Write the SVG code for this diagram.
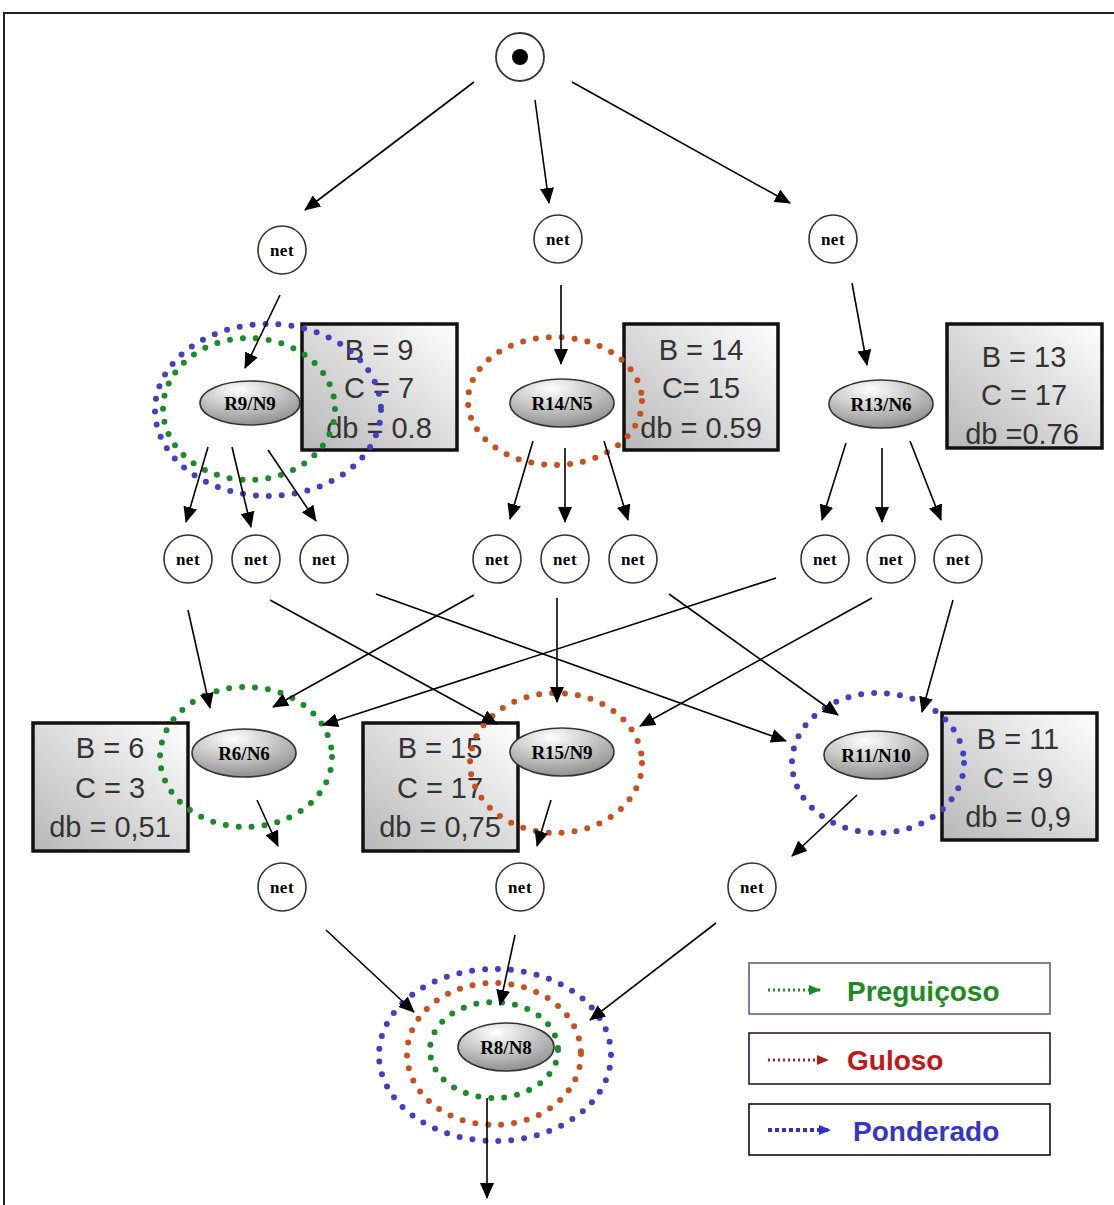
<svg xmlns="http://www.w3.org/2000/svg" width="1114" height="1205" viewBox="0 0 1114 1205">
<defs>
<marker id="ah" markerUnits="userSpaceOnUse" markerWidth="16" markerHeight="14" refX="15" refY="7" orient="auto"><path d="M0,0 L16,7 L0,14 z" fill="#000"/></marker>
<marker id="ahg" markerUnits="userSpaceOnUse" markerWidth="12" markerHeight="10" refX="11" refY="5" orient="auto"><path d="M0,0 L12,5 L0,10 z" fill="#1a8a2a"/></marker>
<marker id="ahr" markerUnits="userSpaceOnUse" markerWidth="12" markerHeight="10" refX="11" refY="5" orient="auto"><path d="M0,0 L12,5 L0,10 z" fill="#b51c1c"/></marker>
<marker id="ahb" markerUnits="userSpaceOnUse" markerWidth="12" markerHeight="10" refX="11" refY="5" orient="auto"><path d="M0,0 L12,5 L0,10 z" fill="#3030cc"/></marker>
<radialGradient id="eg" cx="0.4" cy="0.2" r="0.85"><stop offset="0" stop-color="#ffffff"/><stop offset="1" stop-color="#8a8a8a"/></radialGradient>
<linearGradient id="bg" x1="0" y1="1" x2="1" y2="0"><stop offset="0" stop-color="#b8b8b8"/><stop offset="0.6" stop-color="#e2e2e2"/><stop offset="1" stop-color="#ffffff"/></linearGradient>
</defs>
<style>
.frame{fill:none;stroke:#222;stroke-width:2}
.con{stroke:#000;stroke-width:1.6;fill:none;marker-end:url(#ah)}
.net circle{fill:#fff;stroke:#333;stroke-width:1.6}
.net text{font-family:"Liberation Serif",serif;font-weight:bold;font-size:17px;letter-spacing:0.5px;fill:#000;text-anchor:middle}
.rn ellipse{fill:url(#eg);stroke:#333;stroke-width:1.6}
.rn text{font-family:"Liberation Serif",serif;font-weight:bold;font-size:19px;fill:#000;text-anchor:middle}
.box rect{fill:url(#bg);stroke:#111;stroke-width:3.5}
.box text{font-family:"Liberation Sans",Arial,sans-serif;font-size:29px;fill:#333;text-anchor:middle}
.dot{fill:none;stroke-width:6;stroke-linecap:round;stroke-dasharray:0 13}
.g{stroke:#1a8a2a}.r{stroke:#c8501f}.b{stroke:#4040c0}
.leg rect{fill:#fff;stroke-width:1.6}
.leg text{font-family:"Liberation Sans",Arial,sans-serif;font-weight:bold;font-size:28px}
</style>
<rect x="0" y="0" width="1114" height="1205" fill="#fff"/>
<rect class="frame" x="4" y="13" width="1120" height="1210"/>

<g id="start"><circle cx="520" cy="57" r="24" fill="#fff" stroke="#333" stroke-width="1.8"/><circle cx="520" cy="57" r="8" fill="#000"/></g>

<g id="net-a1" class="net"><circle cx="282" cy="250" r="24"/><text x="282" y="256">net</text></g>
<g id="net-a2" class="net"><circle cx="558" cy="239" r="24"/><text x="558" y="245">net</text></g>
<g id="net-a3" class="net"><circle cx="833" cy="239" r="24"/><text x="833" y="245">net</text></g>

<g id="box-r9" class="box"><rect x="302" y="324" width="155" height="126"/><text x="379" y="360">B = 9</text><text x="379" y="398">C = 7</text><text x="379" y="438">db = 0.8</text></g>
<g id="box-r14" class="box"><rect x="624" y="324" width="154" height="126"/><text x="701" y="360">B = 14</text><text x="701" y="398">C= 15</text><text x="701" y="438">db = 0.59</text></g>
<g id="box-r13" class="box"><rect x="947" y="324" width="155" height="124"/><text x="1024" y="367">B = 13</text><text x="1024" y="405">C = 17</text><text x="1022" y="444">db =0.76</text></g>
<g id="box-r6" class="box"><rect x="33" y="723" width="155" height="128"/><text x="110" y="758">B = 6</text><text x="110" y="798">C = 3</text><text x="110" y="837">db = 0,51</text></g>
<g id="box-r15" class="box"><rect x="363" y="723" width="155" height="128"/><text x="440" y="758">B = 15</text><text x="440" y="798">C = 17</text><text x="440" y="837">db = 0,75</text></g>
<g id="box-r11" class="box"><rect x="942" y="713" width="155" height="127"/><text x="1018" y="749">B = 11</text><text x="1018" y="788">C = 9</text><text x="1018" y="827">db = 0,9</text></g>

<g id="paths">
<ellipse class="dot b" cx="268" cy="410" rx="113" ry="86"/>
<ellipse class="dot g" cx="249" cy="409" rx="86" ry="71"/>
<ellipse class="dot r" cx="555" cy="401" rx="87" ry="64"/>
<ellipse class="dot g" cx="246" cy="757" rx="86" ry="70"/>
<ellipse class="dot r" cx="556" cy="763" rx="86" ry="70"/>
<ellipse class="dot b" cx="878" cy="763" rx="86" ry="70"/>
<ellipse class="dot b" cx="495" cy="1055" rx="116" ry="86"/>
<ellipse class="dot r" cx="494" cy="1054" rx="87" ry="71"/>
<ellipse class="dot g" cx="494" cy="1050" rx="64" ry="48"/>
</g>

<g id="connectors">
<line class="con" x1="474" y1="82" x2="305" y2="210"/>
<line class="con" x1="535" y1="100" x2="549" y2="203"/>
<line class="con" x1="572" y1="82" x2="790" y2="203"/>
<line class="con" x1="280" y1="295" x2="245" y2="368"/>
<line class="con" x1="561" y1="285" x2="561" y2="364"/>
<line class="con" x1="852" y1="283" x2="867" y2="365"/>
<line class="con" x1="208" y1="447" x2="186" y2="522"/>
<line class="con" x1="232" y1="447" x2="251" y2="527"/>
<line class="con" x1="268" y1="450" x2="316" y2="521"/>
<line class="con" x1="533" y1="441" x2="510" y2="519"/>
<line class="con" x1="565" y1="448" x2="565" y2="522"/>
<line class="con" x1="604" y1="441" x2="628" y2="520"/>
<line class="con" x1="846" y1="443" x2="822" y2="520"/>
<line class="con" x1="882" y1="448" x2="882" y2="522"/>
<line class="con" x1="910" y1="441" x2="941" y2="520"/>
<line class="con" x1="188" y1="610" x2="210" y2="708"/>
<line class="con" x1="270" y1="600" x2="497" y2="724"/>
<line class="con" x1="376" y1="594" x2="786" y2="741"/>
<line class="con" x1="474" y1="595" x2="273" y2="707"/>
<line class="con" x1="557" y1="598" x2="557" y2="702"/>
<line class="con" x1="669" y1="594" x2="838" y2="715"/>
<line class="con" x1="776" y1="578" x2="323" y2="725"/>
<line class="con" x1="872" y1="598" x2="640" y2="726"/>
<line class="con" x1="953" y1="600" x2="922" y2="712"/>
<line class="con" x1="257" y1="800" x2="278" y2="846"/>
<line class="con" x1="551" y1="800" x2="537" y2="846"/>
<line class="con" x1="857" y1="795" x2="792" y2="856"/>
<line class="con" x1="326" y1="930" x2="414" y2="1012"/>
<line class="con" x1="515" y1="935" x2="500" y2="1005"/>
<line class="con" x1="716" y1="923" x2="590" y2="1020"/>
<line class="con" x1="487" y1="1098" x2="487" y2="1198"/>
</g>

<g id="net-b1" class="net"><circle cx="188" cy="559" r="24"/><text x="188" y="565">net</text></g>
<g id="net-b2" class="net"><circle cx="256" cy="559" r="24"/><text x="256" y="565">net</text></g>
<g id="net-b3" class="net"><circle cx="324" cy="559" r="24"/><text x="324" y="565">net</text></g>
<g id="net-b4" class="net"><circle cx="497" cy="559" r="24"/><text x="497" y="565">net</text></g>
<g id="net-b5" class="net"><circle cx="565" cy="559" r="24"/><text x="565" y="565">net</text></g>
<g id="net-b6" class="net"><circle cx="633" cy="559" r="24"/><text x="633" y="565">net</text></g>
<g id="net-b7" class="net"><circle cx="825" cy="559" r="24"/><text x="825" y="565">net</text></g>
<g id="net-b8" class="net"><circle cx="891" cy="559" r="24"/><text x="891" y="565">net</text></g>
<g id="net-b9" class="net"><circle cx="958" cy="559" r="24"/><text x="958" y="565">net</text></g>

<g id="net-c1" class="net"><circle cx="282" cy="887" r="24"/><text x="282" y="893">net</text></g>
<g id="net-c2" class="net"><circle cx="520" cy="887" r="24"/><text x="520" y="893">net</text></g>
<g id="net-c3" class="net"><circle cx="752" cy="887" r="24"/><text x="752" y="893">net</text></g>

<g id="r9n9" class="rn"><ellipse cx="250" cy="403" rx="50" ry="22"/><text x="250" y="410">R9/N9</text></g>
<g id="r14n5" class="rn"><ellipse cx="562" cy="403" rx="52" ry="24"/><text x="562" y="410">R14/N5</text></g>
<g id="r13n6" class="rn"><ellipse cx="881" cy="404" rx="52" ry="24"/><text x="881" y="411">R13/N6</text></g>
<g id="r6n6" class="rn"><ellipse cx="244" cy="753" rx="52" ry="24"/><text x="244" y="760">R6/N6</text></g>
<g id="r15n9" class="rn"><ellipse cx="562" cy="752" rx="52" ry="24"/><text x="562" y="759">R15/N9</text></g>
<g id="r11n10" class="rn"><ellipse cx="876" cy="755" rx="52" ry="24"/><text x="876" y="762">R11/N10</text></g>
<g id="r8n8" class="rn"><ellipse cx="506" cy="1047" rx="48" ry="24"/><text x="506" y="1054">R8/N8</text></g>

<g id="legend" class="leg">
<rect x="749" y="963" width="301" height="51" stroke="#6a5a8a"/>
<line x1="768" y1="990" x2="820" y2="990" stroke="#1a8a2a" stroke-width="3" stroke-dasharray="2 3" marker-end="url(#ahg)"/>
<text x="847" y="1001" fill="#1f8a1f">Preguiçoso</text>
<rect x="749" y="1033" width="301" height="51" stroke="#2a1a3a"/>
<line x1="768" y1="1060" x2="828" y2="1060" stroke="#b51c1c" stroke-width="3" stroke-dasharray="2 3" marker-end="url(#ahr)"/>
<text x="847" y="1070" fill="#c01818">Guloso</text>
<rect x="749" y="1104" width="301" height="51" stroke="#111"/>
<line x1="768" y1="1130" x2="830" y2="1130" stroke="#3030cc" stroke-width="4" stroke-dasharray="4 3" marker-end="url(#ahb)"/>
<text x="853" y="1141" fill="#3535c8">Ponderado</text>
</g>
</svg>
